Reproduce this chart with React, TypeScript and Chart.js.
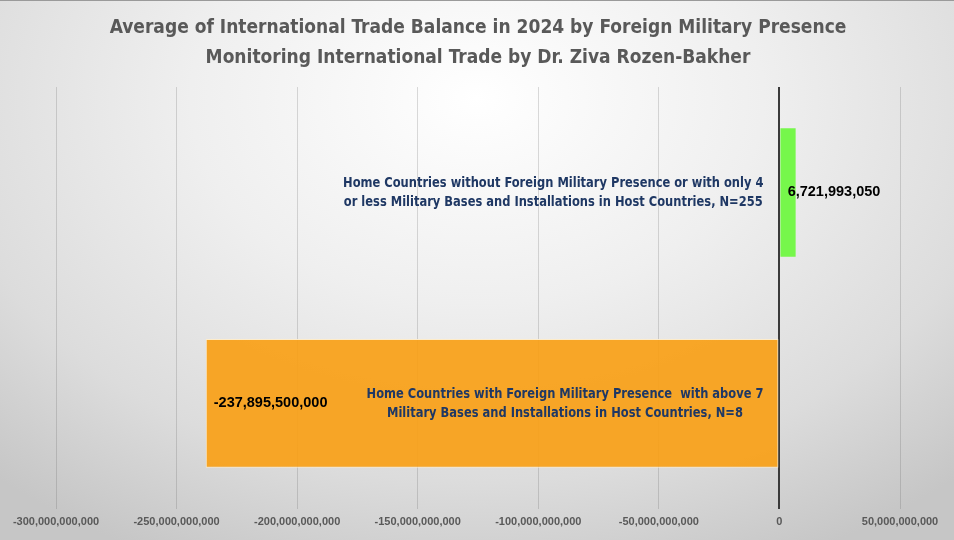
import { useEffect, useRef } from 'react'
import Chart from 'chart.js/auto'

const categories: string[][] = [
  [
    'Home Countries without Foreign Military Presence or with only 4',
    'or less Military Bases and Installations in Host Countries, N=255',
  ],
  [
    'Home Countries with Foreign Military Presence  with above 7',
    'Military Bases and Installations in Host Countries, N=8',
  ],
]
const balances = [6721993050, -237895500000]
const barColors = ['#76F74B', 'rgba(249, 160, 24, 0.93)']
const titleLines = [
  'Average of International Trade Balance in 2024 by Foreign Military Presence',
  'Monitoring International Trade by Dr. Ziva Rozen-Bakher',
]
const xMin = -300000000000
const xMax = 50000000000
const xStep = 50000000000

const NARROW = '"Liberation Sans Narrow", "DejaVu Sans Condensed", "Liberation Sans", sans-serif'
const REGULAR = '"Liberation Sans", Arial, sans-serif'

const fmt = (v: number) => v.toLocaleString('en-US')

const labelsPlugin = {
  id: 'barLabels',
  afterDatasetsDraw(chart: any) {
    const { ctx, scales } = chart
    const x = scales.x
    const y = scales.y
    const zero = x.getPixelForValue(0)
    const meta = chart.getDatasetMeta(0)
    ctx.save()
    // category labels left of the zero line, slightly squeezed like the narrow original
    const sx = 0.88
    ctx.font = `bold 14.5px ${NARROW}`
    ctx.fillStyle = '#1F3864'
    ctx.textAlign = 'center'
    ctx.textBaseline = 'middle'
    categories.forEach((lines, i) => {
      const cy = y.getPixelForValue(i)
      const maxW = Math.max(...lines.map((l) => ctx.measureText(l).width)) * sx
      const cx = zero - 16 - maxW / 2
      const lh = 19
      lines.forEach((l, j) => {
        ctx.save()
        ctx.translate(cx, cy + (j - (lines.length - 1) / 2) * lh)
        ctx.scale(sx, 1)
        ctx.fillText(l, 0, 0)
        ctx.restore()
      })
    })
    // value labels
    ctx.font = `bold 14.5px ${REGULAR}`
    ctx.fillStyle = '#000000'
    ctx.textAlign = 'left'
    meta.data.forEach((bar: any, i: number) => {
      const v = balances[i]
      const tx = v >= 0 ? bar.x - 8 : bar.x + 8
      ctx.fillText(fmt(v), tx, bar.y)
    })
    ctx.restore()
  },
}

export default function App() {
  const chartRef = useRef<HTMLCanvasElement>(null)
  const chartInstance = useRef<Chart | null>(null)

  useEffect(() => {
    document.body.style.margin = '0'
    if (chartRef.current) {
      const ctx = chartRef.current.getContext('2d')
      if (ctx) {
        if (chartInstance.current) {
          chartInstance.current.destroy()
        }
        chartInstance.current = new Chart(ctx, {
          type: 'bar',
          data: {
            labels: categories.map((c) => c.join(' ')),
            datasets: [
              {
                data: balances,
                backgroundColor: barColors,
                borderColor: ['rgba(0,0,0,0)', 'rgba(255, 236, 200, 0.95)'],
                borderWidth: [0, 1],
                borderSkipped: false,
                barPercentage: 0.61,
                categoryPercentage: 1,
              },
            ],
          },
          options: {
            indexAxis: 'y',
            animation: false,
            responsive: true,
            maintainAspectRatio: false,
            layout: {
              padding: { left: 56, right: 54, bottom: 4, top: 0 },
            },
            plugins: {
              legend: { display: false },
              tooltip: { enabled: false },
              title: {
                display: true,
                text: titleLines,
                color: '#595959',
                font: { family: NARROW, size: 19, weight: 'bold', lineHeight: 1.58 },
                padding: { top: 12, bottom: 14 },
              },
            },
            scales: {
              x: {
                min: xMin,
                max: xMax,
                z: 1,
                border: { display: false },
                ticks: {
                  stepSize: xStep,
                  color: '#595959',
                  padding: 7,
                  maxRotation: 0,
                  autoSkip: false,
                  font: { family: REGULAR, size: 11, weight: 'bold' },
                  callback: (value: any) => fmt(Number(value)),
                },
                grid: {
                  drawTicks: false,
                  color: (c: any) => (c.tick && c.tick.value === 0 ? '#3a3a3a' : 'rgba(90, 90, 90, 0.22)'),
                  lineWidth: (c: any) => (c.tick && c.tick.value === 0 ? 2 : 1),
                },
              },
              y: {
                display: false,
              },
            },
          },
          plugins: [labelsPlugin],
        })
      }
    }

    return () => {
      if (chartInstance.current) {
        chartInstance.current.destroy()
        chartInstance.current = null
      }
    }
  }, [])

  return (
    <div
      style={{
        width: 954,
        height: 540,
        position: 'relative',
        background:
          'radial-gradient(ellipse 75% 95% at 50% 18%, #ffffff 0%, #efefef 40%, #dcdcdc 75%, #c6c6c6 100%)',
        borderTop: '1px solid #9a9a9a',
        boxSizing: 'border-box',
      }}
    >
      <canvas ref={chartRef}></canvas>
    </div>
  )
}
